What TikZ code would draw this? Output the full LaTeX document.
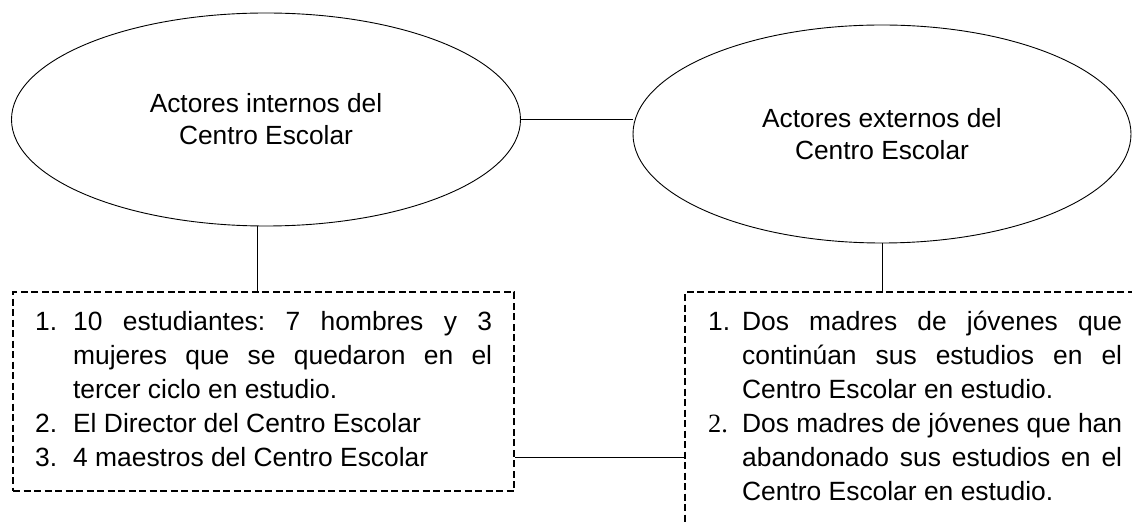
\documentclass[tikz,border=0pt]{standalone}
\usepackage{fontspec}
\setmainfont{Liberation Sans}
\newfontfamily\numfont{Liberation Serif}
\usepackage{tikz}
\usetikzlibrary{
	positioning,
	shapes.geometric
}
\tikzset{
  % node
	cstellipse/.style ={ellipse,draw=black,line width=0.9pt,inner sep=0pt,align=center,
	                    font=\fontsize{26.3}{32}\selectfont},
	cstlist/.style    ={draw=black,line width=2.3pt,dash pattern=on 7pt off 3.5pt,
	                    inner ysep=14.5pt,align=justify,anchor=north west,
	                    font=\fontsize{26.4}{34}\selectfont\frenchspacing},
  % line
	cstline/.style    ={line width=1pt}
}
% list lines
\newcommand{\lstnum}[2]{\strut\makebox[#1][l]{#2}}   % number column
\newcommand{\lstgap}[1]{\strut\hspace*{#1}}          % no number
\newcommand{\lstfill}[2]{\makebox[#1][s]{#2}}        % justified line

\begin{document}
\frenchspacing
\begin{tikzpicture}[x=1pt,y=1pt]
	\useasboundingbox (0,0) rectangle (1132,522);
	\clip (0,0) rectangle (1132,522);
	% actores
	\node[cstellipse,minimum width=509pt,minimum height=213pt] (inner) at (266,402.5)
		{Actores internos del\\Centro Escolar};
	\node[cstellipse,minimum width=498pt,minimum height=218pt] (outer) at (882,388)
		{Actores externos del\\Centro Escolar};
	% listas
	\node[cstlist,text width=457pt,inner xsep=22pt] (intlist) at (12,231) {%
		\lstnum{38pt}{1.}\lstfill{419pt}{10 estudiantes: 7 hombres y 3}\\
		\lstgap{38pt}\lstfill{419pt}{mujeres que se quedaron en el}\\
		\lstgap{38pt}tercer ciclo en estudio.\\
		\lstnum{38pt}{2.}El Director del Centro Escolar\\
		\lstnum{38pt}{3.}4 maestros del Centro Escolar};
	\node[cstlist,text width=414pt,inner xsep=23pt] (extlist) at (684,231) {%
		\lstnum{34pt}{1.}\lstfill{380pt}{Dos madres de jóvenes que}\\
		\lstgap{34pt}\lstfill{380pt}{continúan sus estudios en el}\\
		\lstgap{34pt}Centro Escolar en estudio.\\
		\lstnum{34pt}{\numfont 2.}\lstfill{380pt}{Dos madres de jóvenes que han}\\
		\lstgap{34pt}\lstfill{380pt}{abandonado sus estudios en el}\\
		\lstgap{34pt}Centro Escolar en estudio.};
	% conectores
	\draw[cstline] (inner.east) -- (inner.east -| outer.west);
	\draw[cstline] ([xshift=-9pt]inner.south) -- ([xshift=-9pt]inner.south |- intlist.north);
	\draw[cstline] (outer.south) -- (outer.south |- extlist.north);
	\draw[cstline] ([yshift=-66pt]intlist.east) -- ([yshift=-66pt]intlist.east -| extlist.west);
\end{tikzpicture}
\end{document}
